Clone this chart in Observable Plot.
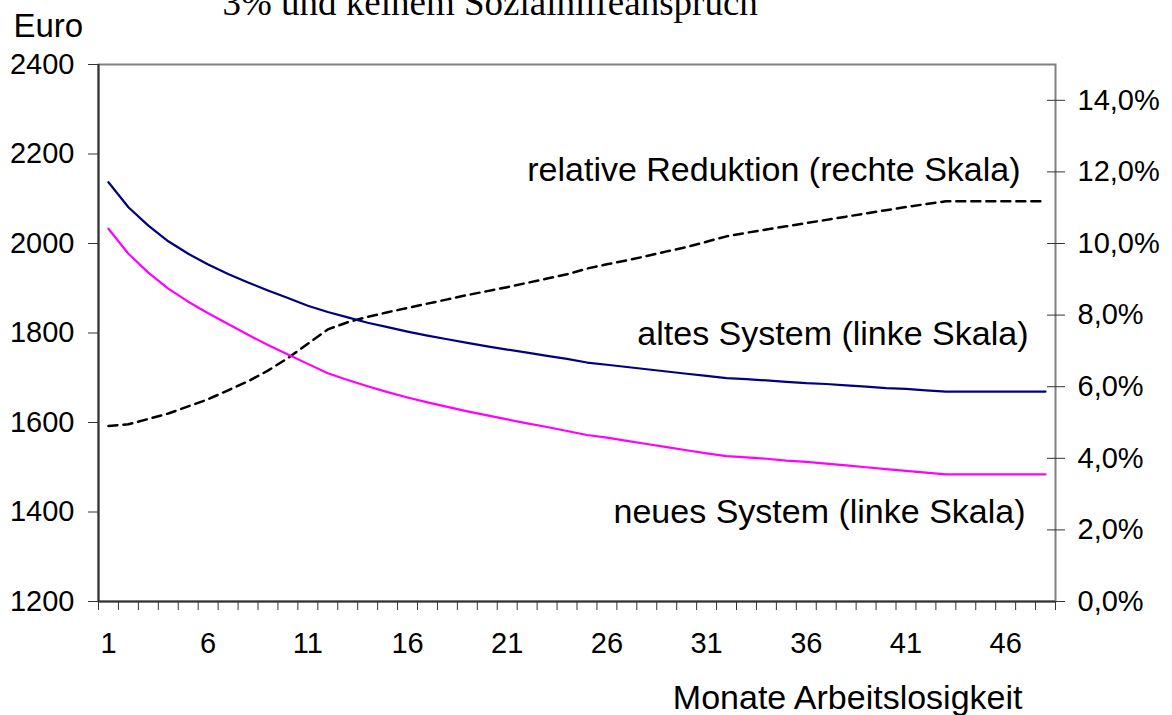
<!DOCTYPE html>
<html>
<head>
<meta charset="utf-8">
<script src="https://cdn.jsdelivr.net/npm/d3@7"></script>
<script src="https://cdn.jsdelivr.net/npm/@observablehq/plot@0.6"></script>
<style>
  html, body { margin: 0; padding: 0; background: #fff; overflow: hidden; }
  #chart svg { display: block; }
</style>
</head>
<body>
<div id="chart"></div>
<script>
// Months of unemployment (category axis)
const months = d3.range(1, 49);
// Altes System (Euro, left scale)
const altesSystem = [2137, 2081, 2040, 2005, 1977, 1953, 1932, 1913, 1895, 1878, 1861, 1847, 1835, 1823, 1813, 1803,
  1794, 1786, 1778, 1770, 1763, 1756, 1749, 1742, 1734, 1729, 1724, 1719, 1714, 1709, 1704, 1699,
  1697, 1694, 1691, 1688, 1686, 1683, 1680, 1677, 1675, 1672, 1669, 1669, 1669, 1669, 1669, 1669];
// Neues System (Euro, left scale)
const neuesSystem = [2033, 1977, 1935, 1899, 1870, 1844, 1820, 1796, 1773, 1752, 1731, 1710, 1695, 1681, 1668, 1656,
  1645, 1635, 1625, 1616, 1607, 1598, 1590, 1581, 1572, 1566, 1559, 1552, 1545, 1538, 1531, 1525,
  1522, 1519, 1515, 1512, 1508, 1504, 1500, 1496, 1492, 1488, 1484, 1484, 1484, 1484, 1484, 1484];
// Relative Reduktion (%, right scale)
const relReduktion = [4.90, 4.95, 5.10, 5.25, 5.45, 5.65, 5.90, 6.15, 6.45, 6.80, 7.20, 7.60, 7.80, 7.95, 8.08, 8.20,
  8.32, 8.44, 8.56, 8.67, 8.78, 8.90, 9.02, 9.14, 9.30, 9.42, 9.53, 9.65, 9.78, 9.90, 10.05, 10.20,
  10.30, 10.39, 10.48, 10.57, 10.66, 10.75, 10.84, 10.93, 11.02, 11.10, 11.18, 11.18, 11.18, 11.18, 11.18, 11.18];
// Tick labels
const xTickLabels = [1, 6, 11, 16, 21, 26, 31, 36, 41, 46];
const leftTicks = [1200, 1400, 1600, 1800, 2000, 2200, 2400];
const rightTicks = [0, 2, 4, 6, 8, 10, 12, 14];

// Right scale: 0% .. 15% mapped onto the left domain 1200 .. 2400
const leftMin = 1200, leftMax = 2400, rightMax = 15;
const toLeft = p => leftMin + p / rightMax * (leftMax - leftMin);
const toRight = e => (e - leftMin) / (leftMax - leftMin) * rightMax;

const data = months.map((m, i) => ({month: m, alt: altesSystem[i], neu: neuesSystem[i], rel: toLeft(relReduktion[i])}));
const bounds = d3.range(0, months.length + 1).map(i => i + 0.5);

const FONT = "'Liberation Sans', Arial, sans-serif";

const chart = Plot.plot({
  width: 1172,
  height: 715,
  marginLeft: 98,
  marginRight: 117,
  marginTop: 64,
  marginBottom: 114,
  style: {fontFamily: FONT, fontSize: "29px", color: "#000", background: "#fff", overflow: "hidden"},
  x: {type: "linear", domain: [0.5, months.length + 0.5], label: null},
  y: {domain: [leftMin, leftMax], label: null},
  marks: [
    Plot.frame({stroke: "#808080", strokeWidth: 2}),
    // x axis: tick marks between categories, labels at category centres
    Plot.axisX({ticks: bounds, tickSize: 9, tickFormat: () => "", stroke: "#333", label: null}),
    Plot.axisX({ticks: xTickLabels, tickSize: 0, tickPadding: 31, fontSize: 29, fill: "#000", label: null}),
    // left axis
    Plot.axisY({anchor: "left", ticks: leftTicks, tickSize: 10, tickPadding: 14, fontSize: 29, fill: "#000", stroke: "#333", label: null, tickFormat: d => String(d)}),
    // right axis (percent), ticks crossing the axis line
    Plot.axisY({anchor: "right", ticks: rightTicks.map(toLeft), tickSize: 9, tickPadding: 13, fontSize: 29, fill: "#000", stroke: "#333", label: null,
      tickFormat: e => toRight(e).toFixed(1).replace(".", ",") + "%"}),
    Plot.axisY({anchor: "right", ticks: rightTicks.map(toLeft), tickSize: -9, tickFormat: () => "", stroke: "#333", label: null}),
    Plot.ruleX([0.5], {stroke: "#333", strokeWidth: 2}),
    Plot.ruleY([leftMin], {stroke: "#333", strokeWidth: 2}),
    // series
    Plot.line(data, {x: "month", y: "rel", stroke: "#000", strokeWidth: 2.5, strokeDasharray: "9,6"}),
    Plot.line(data, {x: "month", y: "alt", stroke: "#000080", strokeWidth: 2.2}),
    Plot.line(data, {x: "month", y: "neu", stroke: "#ff00ff", strokeWidth: 2.2}),
    // annotations
    Plot.text(["relative Reduktion (rechte Skala)"], {frameAnchor: "top-right", textAnchor: "end", lineAnchor: "middle", dx: -35, dy: 106, fontSize: 34, fill: "#000"}),
    Plot.text(["altes System (linke Skala)"], {frameAnchor: "top-right", textAnchor: "end", lineAnchor: "middle", dx: -27, dy: 270, fontSize: 34, fill: "#000"}),
    Plot.text(["neues System (linke Skala)"], {frameAnchor: "top-right", textAnchor: "end", lineAnchor: "middle", dx: -30, dy: 448, fontSize: 34, fill: "#000"}),
    Plot.text(["Euro"], {frameAnchor: "top-left", textAnchor: "start", lineAnchor: "bottom", dx: -85, dy: -28, fontSize: 33, fill: "#000"}),
    Plot.text(["Monate Arbeitslosigkeit"], {frameAnchor: "bottom-right", textAnchor: "end", lineAnchor: "bottom", dx: -33, dy: 107, fontSize: 34, fill: "#000"}),
    Plot.text(["3% und keinem Sozialhilfeanspruch"], {frameAnchor: "top-left", textAnchor: "start", lineAnchor: "bottom", dx: 124, dy: -50, fontSize: 37, fontFamily: "'Liberation Serif', 'Times New Roman', serif", fill: "#000"})
  ]
});
document.getElementById("chart").appendChild(chart);
</script>
</body>
</html>
